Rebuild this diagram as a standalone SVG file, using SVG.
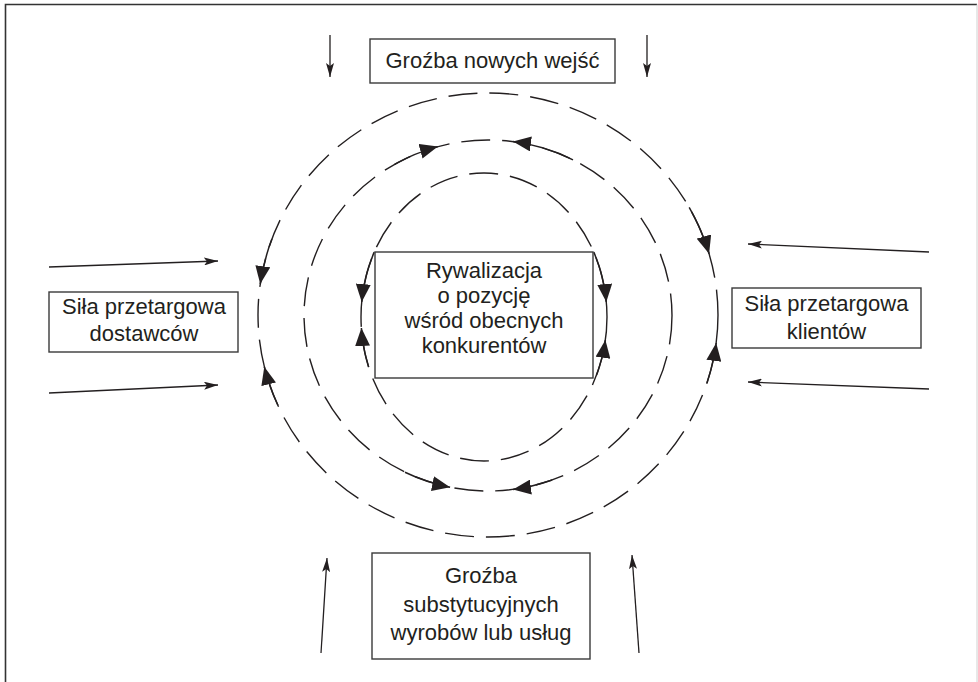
<svg xmlns="http://www.w3.org/2000/svg" width="978" height="682" viewBox="0 0 978 682">
  <defs>
    <style>
      .box { fill: #ffffff; stroke: #3a3a3a; stroke-width: 1.4; }
      .lbl { font-family: "Liberation Sans", Arial, sans-serif; font-size: 22px; fill: #231f20; text-anchor: middle; }
      .ring { fill: none; stroke: #231f20; stroke-width: 1.4; stroke-dasharray: 29 12; }
      .flow { fill: none; stroke: #231f20; stroke-width: 1.5; marker-end: url(#head); }
      .force { fill: none; stroke: #231f20; stroke-width: 1.3; marker-end: url(#tip); }
    </style>
    <!-- large filled head for the circulating flows -->
    <marker id="head" markerUnits="userSpaceOnUse" viewBox="0 0 18 15" markerWidth="18" markerHeight="15" refX="18" refY="7.5" orient="auto">
      <path d="M0,0 L18,7.5 L0,15 z" fill="#231f20"/>
    </marker>
    <!-- slim head for the external forces -->
    <marker id="tip" markerUnits="userSpaceOnUse" viewBox="0 0 14 8" markerWidth="14" markerHeight="8" refX="14" refY="4" orient="auto">
      <path d="M0,0 L14,4 L0,8 L3,4 z" fill="#231f20"/>
    </marker>
  </defs>

  <rect width="978" height="682" fill="#ffffff"/>

  <!-- frame -->
  <path d="M5.5,682 V4.5 H977" fill="none" stroke="#333333" stroke-width="1.6"/>
  <path d="M977,4.5 V682" fill="none" stroke="#d0d0d0" stroke-width="1"/>

  <!-- dashed rings -->
  <g id="rings">
    <ellipse class="ring" cx="488" cy="315" rx="230" ry="222"/>
    <ellipse class="ring" cx="488" cy="315.5" rx="184" ry="175.5"/>
    <ellipse class="ring" cx="484" cy="317" rx="123" ry="144"/>
  </g>

  <g id="connectors">
    <!-- outer ring flows -->
    <path class="flow" d="M271.9,239.1 A230,222 0 0 0 260.2,284.1"/>
    <path class="flow" d="M277.9,405.3 A230,222 0 0 1 264.3,366.8"/>
    <path class="flow" d="M689.2,207.4 A230,222 0 0 1 709.1,253.8"/>
    <path class="flow" d="M707.0,382.9 A230,222 0 0 0 716.2,343.0"/>
    <!-- middle ring flows -->
    <path class="flow" d="M394.6,164.3 A184,175.5 0 0 1 437.9,146.6"/>
    <path class="flow" d="M573.0,159.8 A184,175.5 0 0 0 513.0,141.6"/>
    <path class="flow" d="M405.0,472.2 A184,175.5 0 0 0 450.1,487.2"/>
    <path class="flow" d="M552.1,480.0 A184,175.5 0 0 1 513.0,489.4"/>
    <!-- inner ring flows -->
    <path class="flow" d="M374.2,252.1 A123,144 0 0 0 361.7,302.0"/>
    <path class="flow" d="M368.6,367.0 A123,144 0 0 1 361.4,328.0"/>
    <path class="flow" d="M593.8,252.1 A123,144 0 0 1 606.3,302.0"/>
    <path class="flow" d="M596.5,375.1 A123,144 0 0 0 605.4,340.0"/>

    <!-- external forces -->
    <path class="force" d="M330,35 L330,77"/>
    <path class="force" d="M647,35 L647,77"/>
    <path class="force" d="M49,267 L218,261"/>
    <path class="force" d="M49,393 L218,385"/>
    <path class="force" d="M929,252 L748,244"/>
    <path class="force" d="M929,389 L748,382"/>
    <path class="force" d="M321,653 L327,558"/>
    <path class="force" d="M639,653 L632,555"/>
  </g>

  <g id="new-entrants">
    <rect class="box" x="370" y="39" width="245" height="44"/>
    <text class="lbl" x="492.5" y="68">Groźba nowych wejść</text>
  </g>

  <g id="suppliers">
    <rect class="box" x="49" y="292" width="189" height="60"/>
    <text class="lbl" x="144" y="314">Siła przetargowa</text>
    <text class="lbl" x="144" y="341">dostawców</text>
  </g>

  <g id="buyers">
    <rect class="box" x="732" y="288" width="189" height="60"/>
    <text class="lbl" x="826.5" y="311">Siła przetargowa</text>
    <text class="lbl" x="826.5" y="339">klientów</text>
  </g>

  <g id="rivalry">
    <rect class="box" x="375" y="252" width="218" height="126"/>
    <text class="lbl" x="484" y="278">Rywalizacja</text>
    <text class="lbl" x="484" y="303">o pozycję</text>
    <text class="lbl" x="484" y="328">wśród obecnych</text>
    <text class="lbl" x="484" y="353">konkurentów</text>
  </g>

  <g id="substitutes">
    <rect class="box" x="372" y="553" width="218" height="106"/>
    <text class="lbl" x="481" y="583">Groźba</text>
    <text class="lbl" x="481" y="612">substytucyjnych</text>
    <text class="lbl" x="481" y="640">wyrobów lub usług</text>
  </g>
</svg>
